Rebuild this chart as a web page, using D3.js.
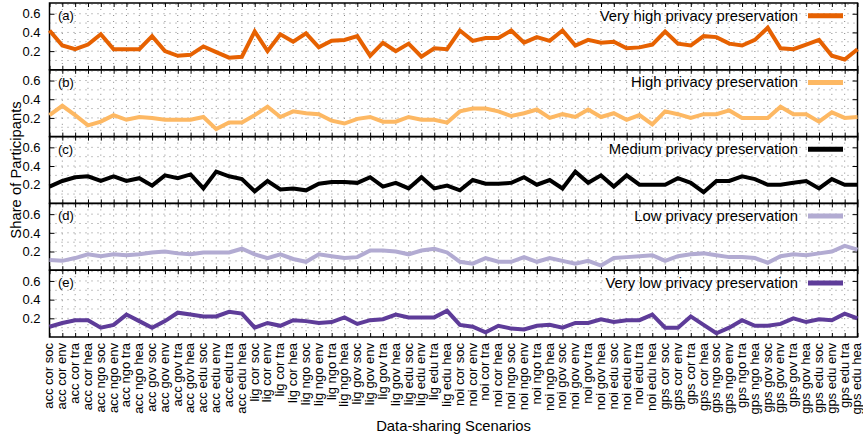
<!DOCTYPE html>
<html><head><meta charset="utf-8">
<script src="https://cdn.jsdelivr.net/npm/d3@7"></script>
<style>html,body{margin:0;padding:0;background:#fff;} svg{display:block;font-family:"Liberation Sans",Arial,sans-serif;}</style>
</head><body>
<svg id="c" width="863" height="440"></svg>
<script>
const categories = [
 "acc cor soc","acc cor env","acc cor tra","acc cor hea","acc ngo soc","acc ngo env","acc ngo tra","acc ngo hea",
 "acc gov soc","acc gov env","acc gov tra","acc gov hea","acc edu soc","acc edu env","acc edu tra","acc edu hea",
 "lig cor soc","lig cor env","lig cor tra","lig cor hea","lig ngo soc","lig ngo env","lig ngo tra","lig ngo hea",
 "lig gov soc","lig gov env","lig gov tra","lig gov hea","lig edu soc","lig edu env","lig edu tra","lig edu hea",
 "noi cor soc","noi cor env","noi cor tra","noi cor hea","noi ngo soc","noi ngo env","noi ngo tra","noi ngo hea",
 "noi gov soc","noi gov env","noi gov tra","noi gov hea","noi edu soc","noi edu env","noi edu tra","noi edu hea",
 "gps cor soc","gps cor env","gps cor tra","gps cor hea","gps ngo soc","gps ngo env","gps ngo tra","gps ngo hea",
 "gps gov soc","gps gov env","gps gov tra","gps gov hea","gps edu soc","gps edu env","gps edu tra","gps edu hea"
];
const veryHigh = [0.42,0.26,0.22,0.27,0.38,0.22,0.22,0.22,0.36,0.20,0.15,0.16,0.25,0.19,0.13,0.14,
 0.41,0.20,0.38,0.30,0.39,0.24,0.31,0.32,0.36,0.15,0.29,0.20,0.28,0.14,0.23,0.22,
 0.42,0.31,0.34,0.34,0.42,0.29,0.35,0.31,0.42,0.26,0.32,0.29,0.30,0.23,0.24,0.27,
 0.41,0.28,0.26,0.36,0.35,0.28,0.26,0.32,0.45,0.23,0.22,0.27,0.32,0.15,0.11,0.22];
const high = [0.23,0.33,0.23,0.12,0.16,0.23,0.18,0.21,0.20,0.18,0.18,0.18,0.21,0.08,0.15,0.15,
 0.23,0.32,0.21,0.27,0.25,0.24,0.17,0.14,0.19,0.21,0.16,0.16,0.21,0.18,0.18,0.15,
 0.27,0.30,0.30,0.27,0.22,0.25,0.29,0.20,0.24,0.21,0.29,0.21,0.25,0.18,0.23,0.13,
 0.27,0.24,0.20,0.24,0.24,0.28,0.20,0.20,0.20,0.32,0.24,0.24,0.16,0.26,0.20,0.21];
const medium = [0.18,0.24,0.28,0.29,0.24,0.29,0.24,0.27,0.19,0.30,0.27,0.31,0.16,0.34,0.29,0.26,
 0.13,0.24,0.15,0.16,0.14,0.21,0.23,0.23,0.22,0.28,0.18,0.22,0.16,0.28,0.16,0.19,
 0.14,0.25,0.21,0.21,0.22,0.28,0.20,0.25,0.16,0.34,0.22,0.30,0.18,0.30,0.20,0.20,
 0.20,0.27,0.22,0.12,0.24,0.24,0.29,0.26,0.20,0.20,0.22,0.24,0.16,0.26,0.20,0.20];
const low = [0.11,0.10,0.13,0.17,0.15,0.17,0.16,0.17,0.19,0.20,0.18,0.17,0.19,0.19,0.19,0.23,
 0.17,0.13,0.17,0.12,0.09,0.17,0.15,0.13,0.14,0.21,0.21,0.20,0.17,0.21,0.23,0.19,
 0.09,0.07,0.13,0.09,0.09,0.14,0.09,0.13,0.10,0.07,0.10,0.05,0.13,0.14,0.15,0.16,
 0.10,0.15,0.17,0.18,0.16,0.14,0.14,0.13,0.08,0.15,0.17,0.16,0.18,0.20,0.26,0.22];
const veryLow = [0.11,0.15,0.18,0.18,0.10,0.13,0.24,0.17,0.10,0.17,0.26,0.24,0.22,0.22,0.27,0.25,
 0.10,0.15,0.12,0.18,0.17,0.15,0.16,0.21,0.14,0.18,0.19,0.24,0.21,0.21,0.21,0.28,
 0.13,0.11,0.05,0.12,0.09,0.08,0.12,0.13,0.10,0.15,0.15,0.19,0.16,0.18,0.18,0.24,
 0.10,0.10,0.22,0.13,0.04,0.10,0.18,0.12,0.12,0.14,0.20,0.16,0.19,0.18,0.25,0.20];
const seriesNames = ["Very high privacy preservation","High privacy preservation","Medium privacy preservation","Low privacy preservation","Very low privacy preservation"];
const panelTags = ["(a)","(b)","(c)","(d)","(e)"];
const colors = ["#e66101","#fdb863","#000000","#b2abd2","#5e3c99"];
const yTicks = [0.2,0.4,0.6];
const yGrid = [0.1,0.2,0.3,0.4,0.5,0.6,0.7];

const series = [veryHigh, high, medium, low, veryLow];
const svg = d3.select("#c");
const left = 49.5, right = 857.5, top0 = 3, ph = 66.8;
const x = d3.scalePoint().domain(categories).range([left, right]);

series.forEach((vals, k) => {
  const t = top0 + k*ph, b = t + ph;
  const y = d3.scaleLinear().domain([0, 0.715]).range([b, t]);
  const g = svg.append("g");
  g.selectAll(".hg").data(yGrid).join("line")
    .attr("x1", left).attr("x2", right).attr("y1", d=>y(d)).attr("y2", d=>y(d))
    .attr("stroke", "#888").attr("stroke-width", 1).attr("stroke-dasharray", "1,5");
  g.selectAll(".vg").data(categories).join("line")
    .attr("x1", d=>x(d)).attr("x2", d=>x(d)).attr("y1", t).attr("y2", b)
    .attr("stroke", "#888").attr("stroke-width", 1).attr("stroke-dasharray", "1,5");
  const ax = g.append("g").attr("transform", `translate(${left},0)`)
    .call(d3.axisLeft(y).tickValues(yTicks).tickFormat(d3.format(".1f")).tickSizeInner(-5).tickSizeOuter(0).tickPadding(9));
  ax.select(".domain").remove();
  ax.selectAll("text").attr("font-size", 13).attr("font-family", "Liberation Sans, Arial, sans-serif").attr("fill", "#000");
  const axr = g.append("g").attr("transform", `translate(${right},0)`)
    .call(d3.axisRight(y).tickValues(yTicks).tickSizeInner(-5).tickSizeOuter(0).tickFormat(""));
  axr.select(".domain").remove();
  const axb = g.append("g").attr("transform", `translate(0,${b})`)
    .call(d3.axisBottom(x).tickSizeInner(-4).tickSizeOuter(0).tickFormat(""));
  axb.select(".domain").remove();
  const axt = g.append("g").attr("transform", `translate(0,${t})`)
    .call(d3.axisTop(x).tickSizeInner(-4).tickSizeOuter(0).tickFormat(""));
  axt.select(".domain").remove();
  g.selectAll(".tick line").attr("stroke", "#000").attr("stroke-width", 1);
  g.append("rect").attr("x", left).attr("y", t).attr("width", right-left).attr("height", ph)
    .attr("fill", "none").attr("stroke", "#000").attr("stroke-width", 1.5);
  const line = d3.line().x((d,i)=>x(categories[i])).y(d=>y(d));
  g.append("path").datum(vals).attr("d", line).attr("fill", "none")
    .attr("stroke", colors[k]).attr("stroke-width", 4).attr("stroke-linejoin", "miter");
  g.append("text").attr("x", 58).attr("y", t+17).attr("font-size", 13).text(panelTags[k]);
  g.append("text").attr("x", 798).attr("y", t+17.5).attr("text-anchor", "end").attr("font-size", 14.8).text(seriesNames[k]);
  g.append("line").attr("x1", 808).attr("x2", 843).attr("y1", t+12.7).attr("y2", t+12.7)
    .attr("stroke", colors[k]).attr("stroke-width", 5);
});

const bottom = top0 + 5*ph;
svg.append("g").selectAll("text").data(categories).join("text")
  .attr("transform", d => `translate(${x(d)},${bottom+6}) rotate(-90)`)
  .attr("text-anchor", "end").attr("dy", "0.3em").attr("font-size", 13).text(d=>d);

svg.append("text").attr("transform", `translate(21,${(top0+bottom)/2}) rotate(-90)`)
  .attr("text-anchor", "middle").attr("font-size", 14.8).text("Share of Participants");
svg.append("text").attr("x", (left+right)/2).attr("y", 431)
  .attr("text-anchor", "middle").attr("font-size", 14.8).text("Data-sharing Scenarios");
</script>
</body></html>
